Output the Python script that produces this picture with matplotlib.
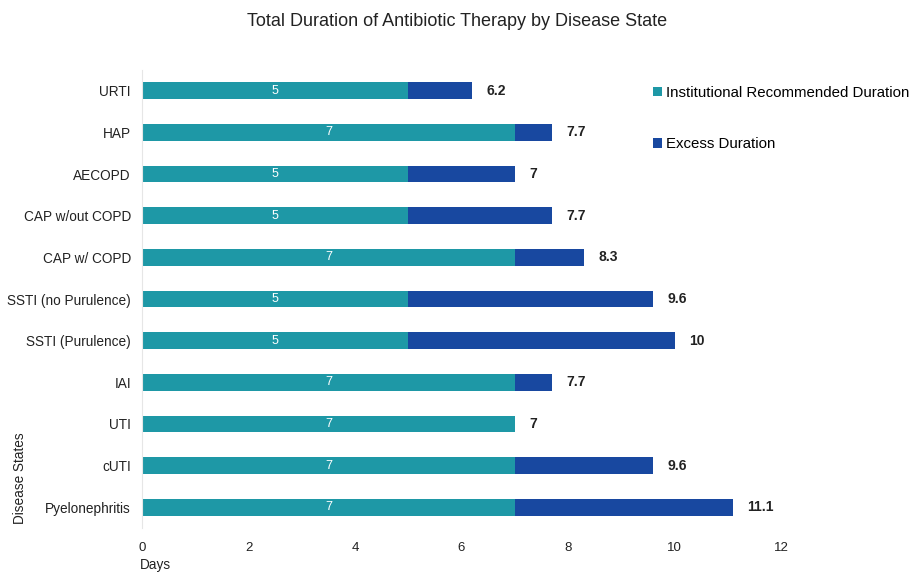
import matplotlib
matplotlib.use("Agg")
import matplotlib.pyplot as plt
import numpy as np

plt.rcParams['font.family'] = ['Liberation Sans', 'DejaVu Sans']

categories = ["URTI", "HAP", "AECOPD", "CAP w/out COPD", "CAP w/ COPD",
              "SSTI (no Purulence)", "SSTI (Purulence)", "IAI", "UTI", "cUTI",
              "Pyelonephritis"]
recommended = [5, 7, 5, 5, 7, 5, 5, 7, 7, 7, 7]
total = [6.2, 7.7, 7, 7.7, 8.3, 9.6, 10, 7.7, 7, 9.6, 11.1]
excess = [round(t - r, 2) for t, r in zip(total, recommended)]
xticks = [0, 2, 4, 6, 8, 10, 12]

teal = "#1E98A6"
navy = "#1848A0"

fig = plt.figure(figsize=(9.14, 5.72), dpi=100)
ax = fig.add_axes([142/914, 1-528/572, (781-142)/914, (528-70)/572])

y = np.arange(len(categories))
ax.barh(y, recommended, height=0.4, color=teal, label="Institutional Recommended Duration")
ax.barh(y, excess, left=recommended, height=0.4, color=navy, label="Excess Duration")

for yi, r, t in zip(y, recommended, total):
    ax.text(r/2, yi, f"{r:g}", color="white", ha="center", va="center", fontsize=9)
    ax.text(t + 0.27, yi, f"{t:g}", color="#222222", ha="left", va="center",
            fontsize=10, fontweight="bold")

ax.set_ylim(len(categories) - 0.5, -0.5)
ax.set_xlim(0, 12)
ax.set_xticks(xticks)
ax.set_xticklabels([str(v) for v in xticks])
ax.set_yticks(y)
ax.set_yticklabels(categories)
ax.tick_params(axis='both', length=0, labelsize=9.8, colors="#222222")
ax.tick_params(axis='x', pad=10, labelsize=9.5)
ax.tick_params(axis='y', pad=8)
for s in ["top", "right", "bottom"]:
    ax.spines[s].set_visible(False)
ax.spines["left"].set_color("#e6e6e6")

leg = ax.legend(loc="upper left", bbox_to_anchor=((647-142)/(781-142), 1 - (80-70)/458),
                frameon=False, fontsize=10.8, handlelength=0.6, handleheight=0.6,
                handletextpad=0.3, labelspacing=2.5, borderaxespad=0)

fig.text(457/914, 1-21/572, "Total Duration of Antibiotic Therapy by Disease State",
         ha="center", va="center", fontsize=13, color="#222222")
fig.text(20/914, 1-478/572, "Disease States", rotation=90, ha="center", va="center",
         fontsize=9.8, color="#222222")
fig.text(140/914, 1-565/572, "Days", ha="left", va="center", fontsize=9.8, color="#222222")

fig.savefig("out.png", dpi=100)
